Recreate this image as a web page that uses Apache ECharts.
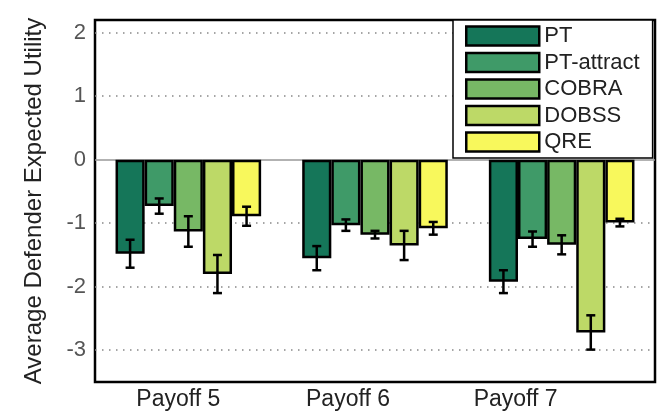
<!DOCTYPE html>
<html>
<head>
<meta charset="utf-8">
<script src="https://cdn.jsdelivr.net/npm/echarts@6/dist/echarts.min.js"></script>
<style>
  html, body { margin: 0; padding: 0; background: #fff; }
  #chart { width: 658px; height: 411px; }
</style>
</head>
<body>
<div id="chart"></div>
<script>
// Payoff structures on the x axis
const categories = ['Payoff 5', 'Payoff 6', 'Payoff 7'];

// Strategies compared (legend order)
const methods = ['PT', 'PT-attract', 'COBRA', 'DOBSS', 'QRE'];

// Mean defender expected utility per payoff structure
const ptMean        = [-1.48, -1.55, -1.92];
const ptAttractMean = [-0.73, -1.03, -1.25];
const cobraMean     = [-1.13, -1.18, -1.34];
const dobssMean     = [-1.80, -1.35, -2.72];
const qreMean       = [-0.89, -1.08, -0.99];

// Error bar half-lengths
const ptErr        = [0.22, 0.19, 0.18];
const ptAttractErr = [0.12, 0.09, 0.12];
const cobraErr     = [0.24, 0.06, 0.15];
const dobssErr     = [0.30, 0.23, 0.27];
const qreErr       = [0.15, 0.10, 0.06];

// Y axis tick values with dotted reference lines
const yTicks = [-3, -2, -1, 0, 1, 2];
const dottedLines = [2, 1, -1, -2, -3];

const means = [ptMean, ptAttractMean, cobraMean, dobssMean, qreMean];
const errs = [ptErr, ptAttractErr, cobraErr, dobssErr, qreErr];
const colors = ['#157659', '#3f9a68', '#77b865', '#bdd967', '#f8f85c'];

const gapRatio = 0.22;
const font = "'Liberation Sans', Arial, Helvetica, sans-serif";

const barSeries = methods.map((name, i) => ({
  name: name,
  type: 'bar',
  data: means[i],
  barGap: '0%',
  barCategoryGap: (gapRatio * 100) + '%',
  itemStyle: { color: colors[i], borderColor: '#000', borderWidth: 2.5 },
  z: 2,
  markLine: i === 0 ? {
    silent: true,
    symbol: 'none',
    z: 1,
    label: { show: false },
    data: dottedLines.map(v => ({ yAxis: v, lineStyle: { type: [1.5, 5.5], color: '#888', width: 1.5 } }))
      .concat([{ yAxis: 0, lineStyle: { type: 'solid', color: '#999', width: 1.5 } }])
  } : undefined
}));

// Error bar rows: [category index, method index, mean, half-length]
const errRows = [];
methods.forEach((m, mi) => {
  categories.forEach((c, ci) => {
    errRows.push([ci, mi, means[mi][ci], errs[mi][ci]]);
  });
});

const errorSeries = {
  name: 'error',
  type: 'custom',
  z: 5,
  data: errRows,
  encode: { x: 0, y: 2 },
  renderItem: function (params, api) {
    const c = api.value(0), m = api.value(1), v = api.value(2), e = api.value(3);
    const band = api.size([1, 0])[0];
    const groupW = band * (1 - gapRatio);
    const barW = groupW / methods.length;
    const cx = api.coord([c, 0])[0] - groupW / 2 + barW * (m + 0.5);
    const yTop = api.coord([c, v + e])[1];
    const yBot = api.coord([c, v - e])[1];
    const cap = 4.5;
    const style = { stroke: '#000', lineWidth: 2.5 };
    return {
      type: 'group',
      children: [
        { type: 'line', shape: { x1: cx, y1: yTop, x2: cx, y2: yBot }, style: style },
        { type: 'line', shape: { x1: cx - cap, y1: yTop, x2: cx + cap, y2: yTop }, style: style },
        { type: 'line', shape: { x1: cx - cap, y1: yBot, x2: cx + cap, y2: yBot }, style: style }
      ]
    };
  }
};

// Per-label horizontal offset of the category labels
const labelShift = [10, 27, 46];
const rich = {};
labelShift.forEach((s, i) => {
  rich['p' + i] = { fontSize: 23, fontFamily: font, color: '#222', padding: [0, 2 * s, 0, 0] };
});

const chart = echarts.init(document.getElementById('chart'), null, { renderer: 'canvas' });
chart.setOption({
  backgroundColor: '#fff',
  animation: false,
  grid: {
    left: 95, right: 3, top: 20, bottom: 29,
    show: true, borderColor: '#000', borderWidth: 2.5, backgroundColor: 'transparent'
  },
  legend: {
    data: methods,
    orient: 'vertical',
    left: 453,
    top: 20,
    padding: [5, 13, 5, 12],
    itemWidth: 73,
    itemHeight: 19,
    itemGap: 4.5,
    icon: 'rect',
    backgroundColor: '#fff',
    borderColor: '#000',
    borderWidth: 1.5,
    itemStyle: { borderColor: '#000', borderWidth: 2.5 },
    textStyle: { fontSize: 22, fontFamily: font, color: '#222' },
    z: 10
  },
  xAxis: {
    type: 'category',
    data: categories,
    axisLine: { show: false },
    axisTick: { show: false },
    axisLabel: {
      margin: 6,
      fontSize: 23,
      fontFamily: font,
      color: '#222',
      formatter: (v, i) => '{p' + i + '|' + v + '}',
      rich: rich
    }
  },
  yAxis: {
    type: 'value',
    min: -3.5,
    max: 2.2,
    interval: 0.5,
    axisLine: { show: false },
    axisTick: { show: false },
    splitLine: { show: false },
    axisLabel: {
      margin: 9,
      fontSize: 22,
      fontFamily: font,
      color: '#555',
      formatter: v => yTicks.some(t => Math.abs(t - v) < 1e-6) ? String(Math.round(v)) : ''
    },
    name: 'Average Defender Expected Utility',
    nameLocation: 'middle',
    nameGap: 49,
    nameTextStyle: { fontSize: 24, fontFamily: font, color: '#222' }
  },
  series: barSeries.concat([errorSeries])
});
</script>
</body>
</html>
